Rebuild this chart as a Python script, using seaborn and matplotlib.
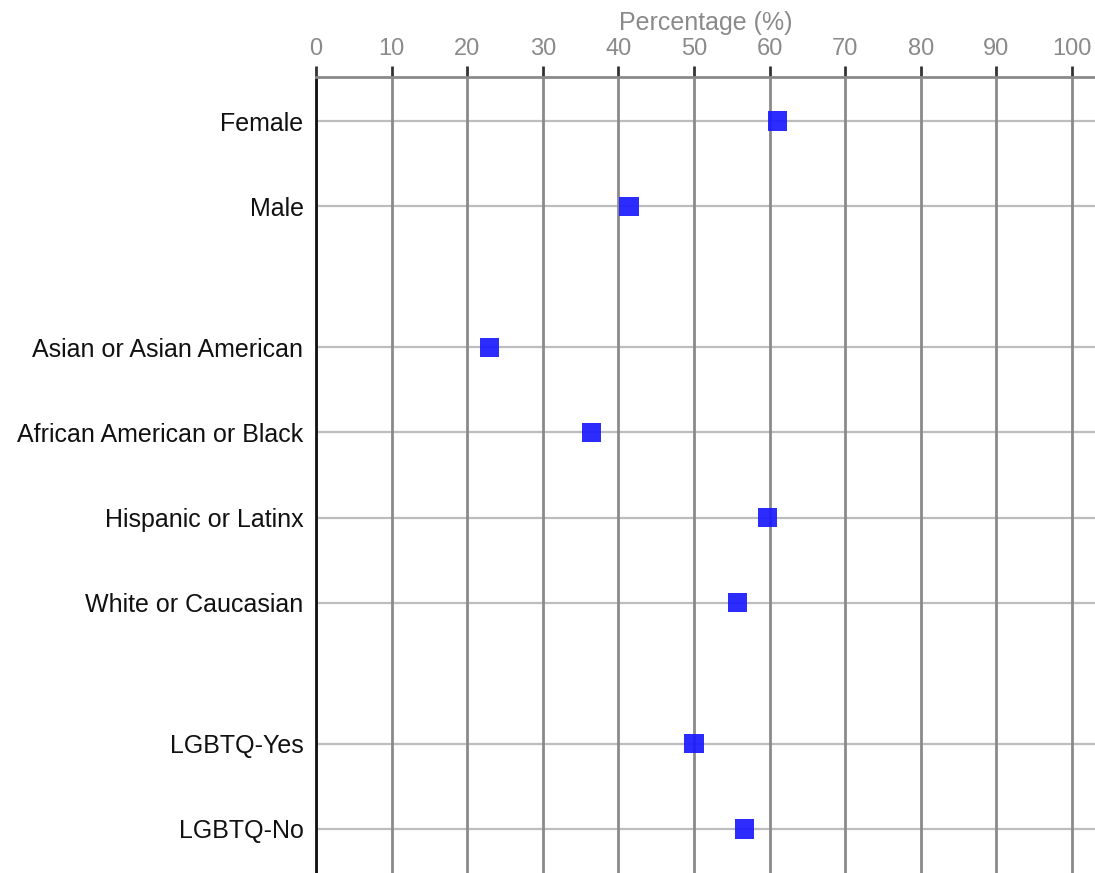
import numpy as np
import pandas as pd
import matplotlib
matplotlib.use("Agg")
import matplotlib.pyplot as plt
import seaborn as sns

# ---- data ----
categories = ["Female", "Male",
              "Asian or Asian American", "African American or Black",
              "Hispanic or Latinx", "White or Caucasian",
              "LGBTQ-Yes", "LGBTQ-No"]
groups = ["Gender", "Gender",
          "Race", "Race", "Race", "Race",
          "LGBTQ", "LGBTQ"]
percent = [61.0, 41.4, 23.0, 36.4, 59.7, 55.8, 50.0, 56.7]
x_ticks = list(range(0, 101, 10))

GROUP_GAP = 0.66  # extra space between groups

df = pd.DataFrame({"category": categories, "group": groups, "percent": percent})
group_idx = pd.factorize(df["group"])[0]
df["pos"] = np.arange(len(df)) + group_idx * GROUP_GAP

sns.set_theme(style="white")
plt.rcParams["font.family"] = ["Liberation Sans", "DejaVu Sans"]

fig = plt.figure(figsize=(10.95, 8.73), dpi=100)
ax = fig.add_axes([316 / 1095, 0.0, 1 - 316 / 1095, 1 - 77 / 873])

# grid lines
for y in df["pos"]:
    ax.axhline(y, color="#bdbdbd", lw=1.6, zorder=1)
for x in x_ticks:
    ax.axvline(x, color="#8a8a8a", lw=2.0, zorder=1)

sns.scatterplot(data=df, x="percent", y="pos", marker="s", s=190,
                color="#1a1aff", alpha=0.92, edgecolor="none", ax=ax, zorder=3)

ax.set_xlim(0, (1095 - 316) / 7.56)
ax.set_ylim(df["pos"].max() + 0.518, df["pos"].min() - 0.518)

ax.xaxis.tick_top()
ax.xaxis.set_label_position("top")
ax.set_xticks(x_ticks)
ax.tick_params(axis="x", length=8, width=2, color="#333333",
               labelsize=17, labelcolor="#8a8a8a", pad=4)
ax.set_xlabel("Percentage (%)", fontsize=18, color="#8a8a8a", labelpad=6)

ax.set_yticks(df["pos"])
ax.set_yticklabels(df["category"])
ax.tick_params(axis="y", length=0, labelsize=18, labelcolor="#111111", pad=9)
ax.set_ylabel("")

for side in ["right", "bottom"]:
    ax.spines[side].set_visible(False)
ax.spines["left"].set_color("#111111")
ax.spines["left"].set_linewidth(2)
ax.spines["top"].set_color("#8a8a8a")
ax.spines["top"].set_linewidth(2)

fig.savefig("out.png", dpi=100)
